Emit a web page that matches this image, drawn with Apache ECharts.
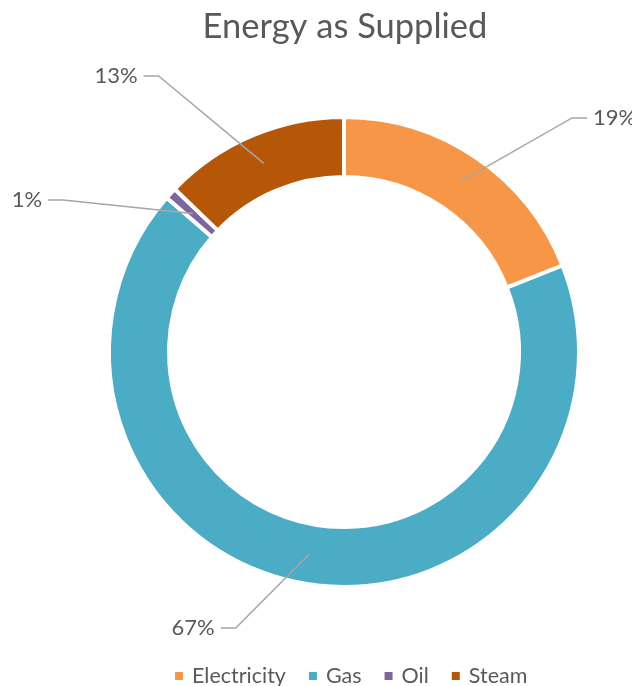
<!DOCTYPE html>
<html><head><meta charset="utf-8">
<script src="https://cdn.jsdelivr.net/npm/echarts@6/dist/echarts.min.js"></script>
<style>html,body{margin:0;padding:0;background:#fff}#c{width:632px;height:686px}</style>
</head><body><div id="c"></div>
<script>
const categories = ['Electricity', 'Gas', 'Oil', 'Steam'];
const values = [19.0, 67.4, 0.8, 12.8];
const colors = ['#F79646', '#4BACC6', '#8064A2', '#B65708'];
const lineLen = [78, 75, 20, 95];
const lineLen2 = [84, 76, 130, 83];

const FONT = 'Lato';
const chart = echarts.init(document.getElementById('c'), null, {renderer: 'canvas'});
const mainData = categories.map((n, i) => ({name: n, value: values[i], itemStyle: {color: colors[i]}}));
const labelData = categories.map((n, i) => ({name: n, value: values[i],
  labelLine: {length: lineLen[i], length2: lineLen2[i]}}));

chart.setOption({
  animation: false,
  title: {text: 'Energy as Supplied', left: 340, top: 4, textAlign: 'center',
    textStyle: {fontFamily: FONT, fontSize: 34.5, fontWeight: 'normal', color: '#595959'}},
  legend: {data: categories, left: 173, top: 665, padding: 0, icon: 'rect', itemWidth: 10, itemHeight: 10, itemGap: 21,
    textStyle: {fontFamily: FONT, fontSize: 21.5, color: '#595959', padding: [0, 0, 0, 3]}},
  series: [
    {type: 'pie', center: [344, 352], radius: [175, 235], startAngle: 90, clockwise: true,
     avoidLabelOverlap: false, silent: true,
     itemStyle: {borderColor: '#fff', borderWidth: 4},
     label: {show: false}, labelLine: {show: false}, data: mainData},
    {type: 'pie', center: [344, 352], radius: [176, 205], startAngle: 90, clockwise: true,
     avoidLabelOverlap: false, silent: true, z: 5, percentPrecision: 0,
     itemStyle: {color: 'rgba(0,0,0,0)'},
     label: {show: true, formatter: '{d}%', fontFamily: FONT, fontSize: 22, color: '#595959', distanceToLabelLine: 6},
     labelLine: {show: true, lineStyle: {color: '#A6A6A6', width: 1.5}},
     labelLayout: function (p) {
       const pts = p.labelLinePoints;
       if (!pts) return {};
       const a = pts[0], e = pts[2];
       const dir = e[0] > a[0] ? 1 : -1;
       return {labelLinePoints: [a, [e[0] - dir * 15, e[1]], e]};
     },
     data: labelData}
  ]
});
</script></body></html>
